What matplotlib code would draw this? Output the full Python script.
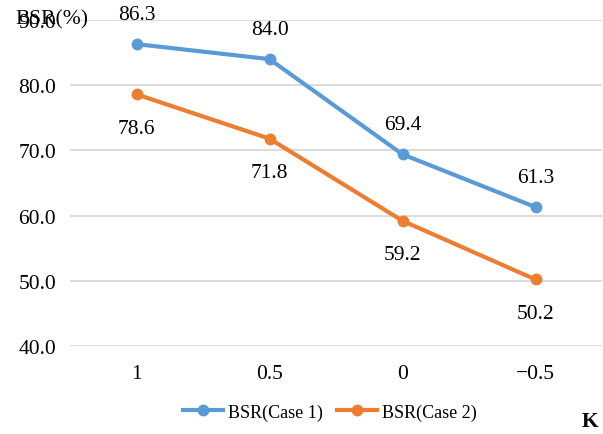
import numpy as np
import matplotlib.pyplot as plt
from matplotlib import rcParams

rcParams["font.family"] = ["Liberation Serif", "DejaVu Serif"]
rcParams["font.size"] = 15.5

k_labels = ["1", "0.5", "0", "\u22120.5"]
bsr_case1 = [86.3, 84.0, 69.4, 61.3]
bsr_case2 = [78.6, 71.8, 59.2, 50.2]

BLUE = "#5B9BD5"
ORANGE = "#ED7D31"

fig = plt.figure(figsize=(6.03, 4.35), dpi=100)
ax = fig.add_axes([70 / 603, 1 - 347 / 435, 532 / 603, 326 / 435])

x = np.arange(len(k_labels))
ax.plot(x, bsr_case1, color=BLUE, lw=3, marker="o", ms=7.5, label="BSR(Case 1)")
ax.plot(x, bsr_case2, color=ORANGE, lw=3, marker="o", ms=7.5, label="BSR(Case 2)")

for xi, v in zip(x, bsr_case1):
    ax.annotate(f"{v:.1f}", (xi, v), xytext=(0, 21.5), textcoords="offset points",
                ha="center", va="center")
for xi, v in zip(x, bsr_case2):
    ax.annotate(f"{v:.1f}", (xi, v), xytext=(0, -24.5), textcoords="offset points",
                ha="center", va="center")

ax.set_xlim(-0.5, len(k_labels) - 0.5)
ax.set_ylim(40, 90)
ax.set_yticks(np.arange(40, 91, 10))
ax.set_yticklabels([f"{t:.1f}" for t in np.arange(40, 91, 10)])
ax.set_xticks(x)
ax.set_xticklabels(k_labels)
ax.tick_params(length=0, pad=10)
ax.tick_params(axis="x", pad=13)
ax.grid(axis="y", color="#D9D9D9", lw=1.3)
ax.set_axisbelow(True)
for s in ax.spines.values():
    s.set_visible(False)

fig.text(15 / 603, 1 - 20 / 435, "BSR(%)", ha="left", va="center")
fig.text(590 / 603, 1 - 422 / 435, "K", fontweight="bold",
         ha="center", va="center")

fig.legend(loc="center", bbox_to_anchor=(330 / 603, 1 - 413 / 435), ncol=2,
           frameon=False, fontsize=13, handlelength=2.2, columnspacing=0.8,
           handletextpad=0.3)

fig.savefig("out.png", dpi=100)
